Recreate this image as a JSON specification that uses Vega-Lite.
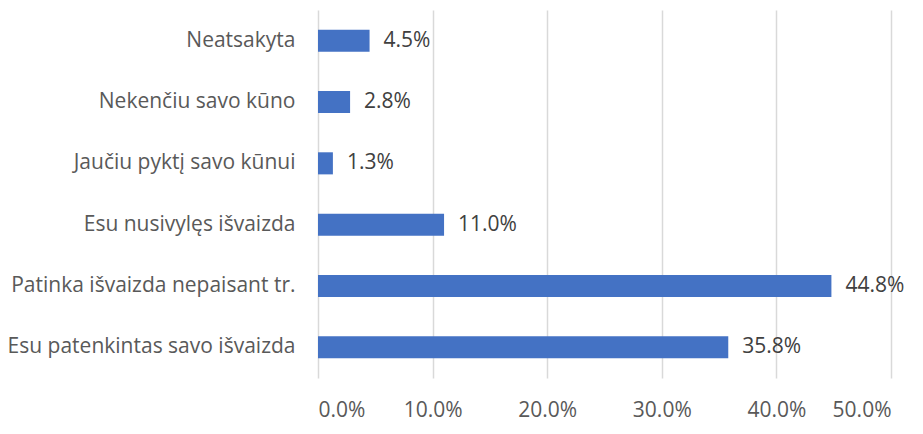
{
  "$schema": "https://vega.github.io/schema/vega-lite/v6.json",
  "width": 573,
  "height": 368,
  "autosize": {"type": "none"},
  "padding": {"left": 318, "top": 10, "right": 32, "bottom": 56},
  "background": "white",
  "config": {
    "view": {"stroke": null},
    "font": "Open Sans",
    "axis": {"labelFont": "Open Sans", "labelColor": "#595959", "labelFontSize": 21}
  },
  "data": {
    "values": [
      {"category": "Neatsakyta", "value": 0.045},
      {"category": "Nekenčiu savo kūno", "value": 0.028},
      {"category": "Jaučiu pyktį savo kūnui", "value": 0.013},
      {"category": "Esu nusivylęs išvaizda", "value": 0.110},
      {"category": "Patinka išvaizda nepaisant tr.", "value": 0.448},
      {"category": "Esu patenkintas savo išvaizda", "value": 0.358}
    ]
  },
  "encoding": {
    "y": {
      "field": "category",
      "type": "nominal",
      "sort": null,
      "scale": {"paddingInner": 0.64, "paddingOuter": 0.32},
      "axis": {"title": null, "ticks": false, "domain": false, "labelPadding": 23, "grid": false, "labelLimit": 400}
    },
    "x": {
      "field": "value",
      "type": "quantitative",
      "scale": {"domain": [0, 0.5], "nice": false},
      "axis": {"title": null, "format": ".1%", "values": [0, 0.1, 0.2, 0.3, 0.4, 0.5], "ticks": false, "domain": false, "grid": true, "gridColor": "#d9d9d9", "gridWidth": 1.5, "labelPadding": 21, "labelFontSize": 21}
    }
  },
  "layer": [
    {"mark": {"type": "bar", "color": "#4472C4"}},
    {
      "mark": {"type": "text", "align": "left", "baseline": "middle", "dx": 14, "fontSize": 21, "color": "#404040", "font": "Open Sans"},
      "encoding": {"text": {"field": "value", "type": "quantitative", "format": ".1%"}}
    }
  ]
}
